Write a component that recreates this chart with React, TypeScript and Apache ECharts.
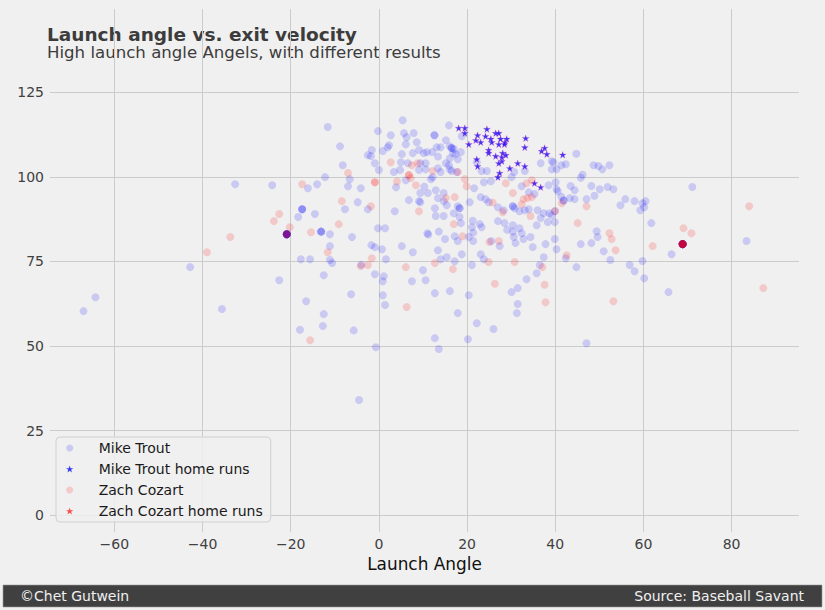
import React, { useEffect, useRef } from "react";
import * as echarts from "echarts";

// Mike Trout batted balls: [launch angle, exit velocity]
const troutPoints: number[][] = [
  [-32.6, 97.8], [-24.2, 97.5], [-42.8, 73.3], [-22.6, 69.4], [-64.3, 64.4], [-67.0, 60.3], [-35.6, 60.9],
  [-17.9, 54.8], [-5.7, 54.6], [-0.7, 49.6], [-4.5, 34.0],
  [-13.1, 83.8], [-13.1, 83.8], [-13.1, 83.8], [-11.1, 83.0], [-6.1, 82.2], [-11.1, 79.5], [-17.7, 75.6],
  [-15.6, 75.6], [-11.1, 75.4], [-10.6, 74.5], [-12.5, 70.9], [-1.7, 79.8], [-0.9, 79.2], [0.7, 78.6],
  [5.2, 79.5], [7.7, 77.7], [1.6, 75.6], [-4.0, 74.0], [-0.9, 71.2], [1.1, 70.6], [0.9, 69.1], [7.5, 69.1],
  [-6.3, 65.3], [0.9, 65.0], [1.4, 62.1], [-16.5, 63.2], [-12.5, 59.4], [-12.7, 55.9],
  [-11.6, 114.7], [-0.2, 113.5], [5.4, 116.7], [2.7, 112.3], [5.7, 112.9], [6.3, 111.7], [7.9, 112.9],
  [6.1, 109.6], [8.6, 110.2], [-8.8, 109.0], [2.3, 109.3], [2.0, 108.7], [0.9, 107.6], [-1.6, 107.9],
  [-2.5, 106.4], [-1.8, 106.1], [5.2, 106.7], [7.7, 107.0], [9.1, 107.9], [-0.9, 104.0], [5.0, 104.3],
  [6.6, 104.0], [-8.2, 103.4], [0.0, 102.0], [3.4, 101.4], [4.8, 102.0], [6.1, 99.0], [9.1, 102.0],
  [-12.2, 99.9], [-6.6, 99.3], [-16.1, 96.6], [-14.0, 97.8], [-7.0, 97.2], [-4.1, 96.6], [3.9, 96.9],
  [-4.8, 92.5], [-2.5, 90.4], [-7.7, 90.4], [3.6, 89.8], [6.8, 93.1], [9.1, 92.8],
  [-17.4, 90.4], [-17.4, 90.4], [-17.4, 90.4], [-18.3, 88.1], [-14.5, 89.0], [-0.2, 84.8], [1.4, 84.8],
  [11.0, 83.3], [11.2, 82.9], [13.6, 83.8], [15.0, 81.6], [17.2, 82.4], [17.9, 81.0], [20.4, 82.2],
  [21.4, 83.5], [21.4, 81.0], [25.5, 81.0], [27.4, 79.5], [29.1, 84.3], [30.4, 83.8], [32.4, 83.3],
  [30.6, 82.2], [32.8, 81.6], [34.4, 82.2], [31.0, 80.4], [34.9, 79.2], [37.8, 80.1], [39.9, 81.6],
  [40.3, 78.6], [13.4, 78.3], [14.0, 75.6], [15.4, 76.2], [17.2, 75.0], [18.8, 77.1], [21.1, 73.9],
  [23.1, 77.1], [23.8, 75.6], [37.4, 76.2], [36.5, 73.9], [35.8, 71.5], [10.0, 72.4], [10.6, 69.4],
  [33.5, 69.7], [12.7, 65.6], [16.1, 66.2], [20.4, 65.0], [30.1, 65.9], [31.5, 67.1], [31.5, 62.4],
  [31.3, 59.7], [17.9, 59.7], [22.2, 56.7], [26.0, 55.0], [12.7, 52.3], [20.2, 52.0], [13.6, 49.1],
  [15.9, 115.2], [12.6, 112.3], [12.6, 112.3], [15.2, 110.8], [18.8, 112.0], [16.1, 109.0], [16.5, 108.5],
  [16.5, 108.5], [17.0, 108.2], [14.0, 108.7], [13.1, 108.7], [10.9, 107.3], [12.1, 107.3], [10.2, 107.0],
  [13.4, 106.0], [16.8, 107.0], [17.4, 106.7], [18.6, 107.3], [16.1, 105.5], [17.9, 105.2], [15.2, 104.0],
  [15.9, 103.4], [9.4, 104.0], [10.6, 104.0], [10.6, 102.2], [13.4, 102.5], [14.0, 101.4], [16.1, 102.2],
  [16.5, 101.7], [17.7, 101.4], [22.2, 104.3], [23.3, 101.7], [24.5, 101.7], [30.7, 101.4], [33.1, 101.7],
  [36.7, 104.0], [39.2, 104.6], [39.6, 104.3], [40.3, 102.2], [39.2, 102.2], [12.2, 99.9], [11.8, 99.3],
  [21.6, 96.6], [23.8, 98.4], [25.4, 98.7], [30.1, 99.9], [32.4, 97.2], [38.5, 97.5], [40.1, 98.4],
  [40.3, 96.3], [11.1, 95.2], [12.9, 96.0], [14.7, 95.2], [13.4, 93.7], [9.4, 92.5], [14.7, 92.8],
  [15.4, 91.6], [17.9, 91.3], [18.3, 90.7], [18.3, 90.7], [12.7, 90.7], [20.6, 92.5], [23.1, 94.0],
  [24.2, 93.4], [24.9, 92.5], [21.3, 87.0], [22.9, 86.0], [27.0, 91.0], [28.3, 90.1], [30.4, 91.3],
  [30.4, 91.3], [30.8, 90.7], [31.9, 89.8], [33.1, 90.1], [34.0, 90.4], [36.0, 90.1], [37.4, 89.2],
  [38.7, 89.2], [39.9, 89.8], [36.7, 87.8], [38.3, 86.6], [39.9, 86.6], [34.0, 95.4], [35.3, 94.9],
  [9.4, 95.2], [10.3, 97.1], [12.9, 88.4], [14.7, 88.4], [18.3, 88.1], [18.6, 86.3], [17.0, 89.2],
  [21.1, 85.1], [23.3, 85.1], [27.0, 86.9], [28.5, 86.3], [30.4, 85.7], [31.9, 84.8], [35.8, 85.7],
  [39.2, 88.6],
  [44.8, 106.8], [41.4, 103.4], [42.4, 103.7], [48.7, 103.4], [49.8, 103.2], [50.7, 102.2], [52.3, 103.4],
  [46.2, 100.6], [45.8, 99.7], [43.5, 97.3], [44.4, 96.0], [48.2, 97.3], [50.1, 96.3], [51.9, 97.0],
  [53.2, 96.3], [71.1, 97.0], [40.6, 95.7], [41.4, 94.1], [43.3, 93.7], [44.4, 93.4], [41.9, 93.0],
  [41.9, 93.0], [47.1, 93.4], [48.9, 94.4], [55.9, 93.4], [54.8, 91.6], [58.0, 92.8], [59.8, 92.2],
  [60.5, 92.8], [60.2, 91.0], [59.3, 90.1], [61.8, 86.3], [49.4, 83.9], [49.6, 82.2], [83.4, 81.0],
  [45.8, 80.1], [48.2, 80.4], [51.0, 78.0], [42.4, 75.9], [52.5, 75.4], [66.4, 77.1], [44.8, 73.3],
  [56.9, 73.9], [58.0, 72.1], [59.8, 75.1], [60.2, 70.0], [65.7, 65.9], [47.1, 50.8],
  [68.9, 80.1], [68.9, 80.1], [68.9, 80.1], [68.9, 80.1], [68.9, 80.1], [68.9, 80.1],
  [68.9, 80.1], [68.9, 80.1], [68.9, 80.1], [68.9, 80.1], [68.9, 80.1], [68.9, 80.1],
  [-20.9, 83.0], [-20.9, 83.0], [-20.9, 83.0], [-20.9, 83.0], [-20.9, 83.0],
  [-20.9, 83.0], [-20.9, 83.0], [-20.9, 83.0], [-20.9, 83.0], [-20.9, 83.0],
];

// Mike Trout home runs
const troutHomeRuns: number[][] = [
  [18.1, 114.4], [19.5, 114.4], [19.5, 112.9], [20.4, 109.6], [22.4, 112.3], [22.0, 110.8], [23.1, 110.2],
  [24.5, 114.1], [24.2, 112.0], [25.4, 111.2], [26.5, 112.9], [27.2, 112.9], [25.6, 110.2], [27.2, 109.6],
  [27.6, 111.2], [29.0, 111.2], [28.6, 110.2], [28.5, 109.6], [24.9, 107.9], [24.9, 107.0], [26.5, 106.1],
  [28.1, 107.0], [28.8, 106.4], [27.9, 105.8], [27.9, 104.6], [27.2, 104.0], [22.2, 105.2], [22.4, 103.1],
  [29.7, 102.5], [31.5, 104.0], [33.1, 103.1], [33.3, 111.4], [33.1, 108.7], [27.4, 101.1], [27.0, 99.9],
  [36.9, 107.6], [37.6, 108.5], [38.1, 106.7], [35.3, 98.1], [36.7, 96.9], [41.7, 106.5],
];

// Zach Cozart batted balls
const cozartPoints: number[][] = [
  [-22.6, 89.0], [-23.8, 86.9], [-33.7, 82.2], [-39.0, 77.7], [-15.4, 83.6], [-11.6, 77.7], [-1.6, 75.9],
  [-2.5, 73.9], [-4.1, 73.6], [6.1, 73.3], [6.3, 61.5], [-15.6, 51.7], [2.7, 104.3], [7.5, 103.4],
  [8.8, 104.0], [-7.0, 101.1], [6.8, 100.5], [6.8, 100.5], [7.2, 99.6], [4.1, 98.6], [8.4, 97.5],
  [-0.9, 98.4], [-0.9, 98.4], [-17.4, 97.8], [-8.4, 92.8], [-1.8, 91.3], [9.1, 89.8], [-9.1, 86.0],
  [-20.2, 85.1], [19.0, 82.4], [25.1, 80.7], [27.2, 81.0], [12.7, 74.5], [24.9, 74.8], [30.8, 74.8],
  [37.1, 73.3], [16.8, 72.7], [37.6, 68.1], [26.3, 68.4], [37.8, 62.9], [12.2, 101.7], [17.9, 101.4],
  [19.5, 99.3], [19.9, 97.2], [28.8, 98.1], [33.5, 98.1], [34.7, 99.0], [15.2, 93.7], [17.2, 94.0],
  [28.1, 89.5], [32.4, 91.9], [32.8, 93.4], [33.7, 93.7], [34.7, 94.0], [34.4, 88.4], [30.4, 95.2],
  [17.0, 86.0], [25.8, 92.4], [41.5, 92.2], [40.0, 89.9], [47.1, 91.3], [84.0, 91.3], [45.1, 86.3],
  [52.3, 83.3], [52.8, 81.6], [69.1, 84.8], [70.9, 83.3], [53.7, 78.3], [62.1, 79.5], [42.6, 76.8],
  [87.2, 67.1], [53.2, 63.2],
  [68.9, 80.1], [68.9, 80.1], [68.9, 80.1], [68.9, 80.1], [68.9, 80.1], [68.9, 80.1], [68.9, 80.1],
  [68.9, 80.1],
  [-20.9, 83.0], [-20.9, 83.0], [-20.9, 83.0],
];

// Zach Cozart home runs (none visible in the plotted range)
const cozartHomeRuns: number[][] = [];

const seriesNames = ["Mike Trout", "Mike Trout home runs", "Zach Cozart", "Zach Cozart home runs"];
const xRange = [-74.6, 95.3];
const yRange = [-5, 149.6];
const xStep = 20;
const yStep = 25;
const titleText = "Launch angle vs. exit velocity";
const subtitleText = "High launch angle Angels, with different results";
const creditText = "©Chet Gutwein";
const sourceText = "Source: Baseball Savant";

const STAR =
  "path://M0,-10 L2.245,-3.09 L9.511,-3.09 L3.633,1.18 L5.878,8.09 L0,3.82 L-5.878,8.09 L-3.633,1.18 L-9.511,-3.09 L-2.245,-3.09 Z";
const FONT = "DejaVu Sans";

export default function App() {
  const ref = useRef<HTMLDivElement>(null);

  useEffect(() => {
    document.body.style.margin = "0";
    const chart = echarts.init(ref.current as HTMLDivElement, null, { renderer: "svg" });
    const minus = (v: number) => (v < 0 ? "\u2212" + Math.abs(v) : String(v));
    chart.setOption({
      animation: false,
      backgroundColor: "#f0f0f0",
      textStyle: { fontFamily: FONT },
      grid: { left: 50, right: 26, top: 9, bottom: 78, containLabel: false },
      xAxis: {
        type: "value",
        min: xRange[0],
        max: xRange[1],
        minInterval: xStep,
        maxInterval: xStep,
        axisLine: { show: false },
        axisTick: { show: false },
        axisLabel: {
          showMinLabel: false,
          showMaxLabel: false,
          fontSize: 14,
          fontFamily: FONT,
          color: "#404040",
          margin: 5,
          formatter: minus,
        },
        splitLine: {
          show: true,
          showMinLine: false,
          showMaxLine: false,
          lineStyle: { color: "#cbcbcb", width: 1 },
        },
        name: "Launch Angle",
        nameLocation: "middle",
        nameGap: 20,
        nameTextStyle: { fontSize: 16.9, fontFamily: FONT, color: "#111" },
      },
      yAxis: {
        type: "value",
        min: yRange[0],
        max: yRange[1],
        minInterval: yStep,
        maxInterval: yStep,
        axisLine: { show: false },
        axisTick: { show: false },
        axisLabel: {
          showMinLabel: false,
          showMaxLabel: false,
          fontSize: 14,
          fontFamily: FONT,
          color: "#404040",
          margin: 6,
          formatter: minus,
        },
        splitLine: {
          show: true,
          showMinLine: false,
          showMaxLine: false,
          lineStyle: { color: "#cbcbcb", width: 1 },
        },
      },
      legend: {
        orient: "vertical",
        left: 56,
        top: 437,
        padding: [3, 8, 3, 10],
        itemGap: 5,
        itemWidth: 18,
        itemHeight: 7,
        itemStyle: { borderWidth: 0 },
        backgroundColor: "rgba(240,240,240,0.85)",
        borderColor: "#d0d0d0",
        borderWidth: 1,
        borderRadius: 4,
        data: seriesNames,
        textStyle: {
          fontSize: 14,
          fontFamily: FONT,
          color: "#1a1a1a",
          lineHeight: 16,
          padding: [0, 0, 0, 15],
        },
      },
      series: [
        {
          name: seriesNames[0],
          type: "scatter",
          data: troutPoints,
          symbol: "circle",
          symbolSize: 8,
          itemStyle: { color: "rgba(0,0,255,0.2)" },
        },
        {
          name: seriesNames[1],
          type: "scatter",
          data: troutHomeRuns,
          symbol: STAR,
          symbolSize: 7,
          symbolKeepAspect: true,
          itemStyle: { color: "#0a0af5", borderColor: "rgba(235,80,200,0.55)", borderWidth: 0.6 },
        },
        {
          name: seriesNames[2],
          type: "scatter",
          data: cozartPoints,
          symbol: "circle",
          symbolSize: 8,
          itemStyle: { color: "rgba(255,0,0,0.2)" },
        },
        {
          name: seriesNames[3],
          type: "scatter",
          data: cozartHomeRuns,
          symbol: STAR,
          symbolSize: 7,
          symbolKeepAspect: true,
          itemStyle: { color: "#ff2020" },
        },
      ],
      graphic: [
        {
          type: "text",
          x: 47,
          y: 34.5,
          style: {
            text: titleText,
            font: `bold 18.5px "${FONT}"`,
            fill: "#3c3c3c",
            verticalAlign: "middle",
            align: "left",
          },
        },
        {
          type: "text",
          x: 47,
          y: 52.5,
          style: {
            text: subtitleText,
            font: `16.6px "${FONT}"`,
            fill: "#3c3c3c",
            verticalAlign: "middle",
            align: "left",
          },
        },
        {
          type: "rect",
          shape: { x: 3, y: 585, width: 819, height: 22 },
          style: { fill: "#404040", stroke: "#9a9a9a", lineWidth: 0.6 },
        },
        {
          type: "text",
          x: 20,
          y: 596,
          style: {
            text: creditText,
            font: `14px "${FONT}"`,
            fill: "#f0f0f0",
            verticalAlign: "middle",
            align: "left",
          },
        },
        {
          type: "text",
          x: 804,
          y: 596,
          style: {
            text: sourceText,
            font: `14px "${FONT}"`,
            fill: "#f0f0f0",
            verticalAlign: "middle",
            align: "right",
          },
        },
      ],
    });
    return () => chart.dispose();
  }, []);

  return <div ref={ref} style={{ width: 825, height: 610 }} />;
}
